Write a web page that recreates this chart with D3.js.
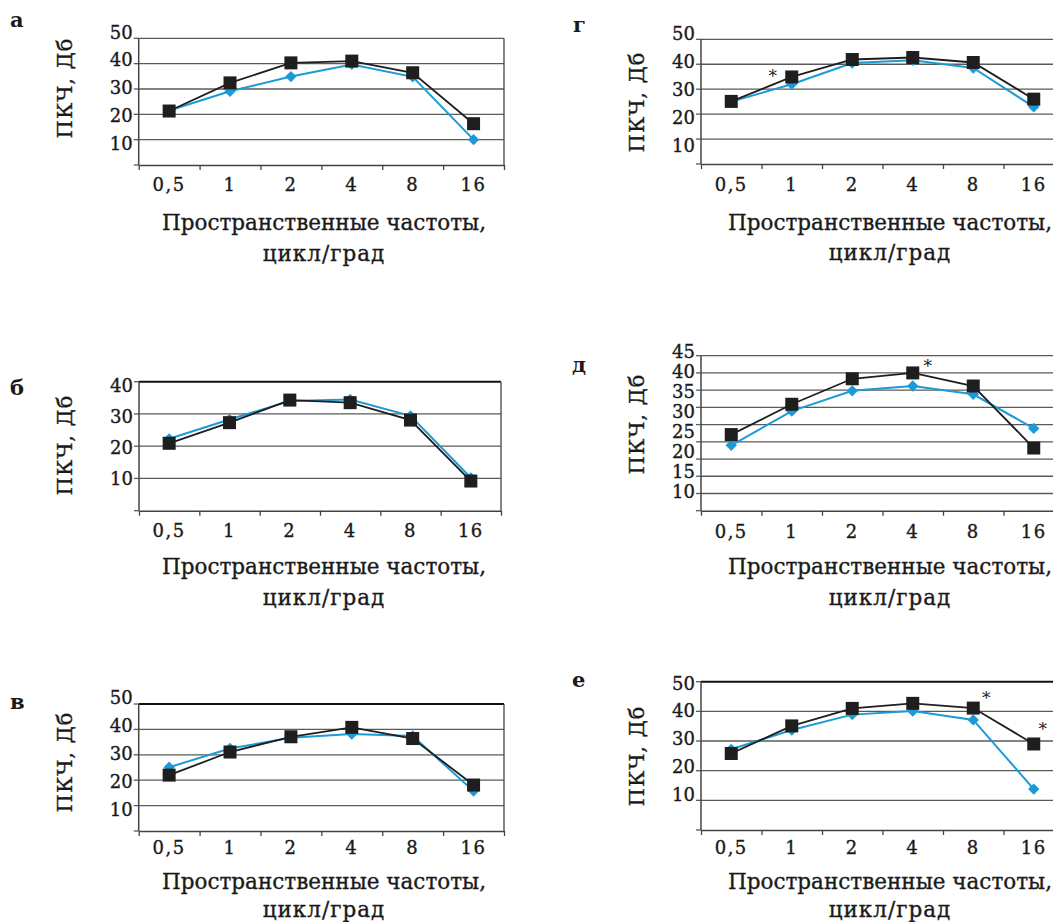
<!DOCTYPE html>
<html><head><meta charset="utf-8">
<script src="https://cdn.jsdelivr.net/npm/d3@7"></script>
<style>
html,body{margin:0;padding:0;background:#fff;}
svg{display:block;}
text{font-family:"DejaVu Serif","Liberation Serif",serif;fill:#1a1a1a;}
</style></head>
<body>
<svg id="chart" width="1053" height="922"></svg>
<script>
// ---------- DATA ----------
const categories = ["0,5", "1", "2", "4", "8", "16"];
const panelLetters = ["а", "б", "в", "г", "д", "е"];
const xTitleLine1 = "Пространственные частоты,";
const xTitleLine2 = "цикл/град";
const yTitle = "ПКЧ, Дб";

const blackA = [21.3, 32.4, 40.3, 41.0, 36.4, 16.3];
const blueA  = [21.5, 29.1, 34.9, 39.7, 34.8, 10.0];
const blackB = [20.9, 27.3, 34.3, 33.5, 28.1, 9.2];
const blueB  = [22.3, 28.3, 34.0, 34.5, 29.4, 10.2];
const blackV = [22.0, 31.1, 37.1, 40.8, 36.4, 18.1];
const blueV  = [25.1, 32.5, 36.7, 38.2, 37.4, 15.7];
const blackG = [25.1, 34.9, 41.9, 42.7, 40.7, 26.0];
const blueG  = [25.0, 32.0, 40.5, 41.6, 38.5, 22.9];
const blackD = [22.1, 30.9, 38.3, 40.0, 36.2, 18.2];
const blueD  = [19.0, 28.9, 34.8, 36.2, 33.8, 23.9];
const blackE = [25.8, 35.1, 41.0, 42.7, 41.1, 29.0];
const blueE  = [27.2, 33.7, 38.9, 40.1, 37.1, 13.8];

const yTicks50 = [50, 40, 30, 20, 10];
const yTicks40 = [40, 30, 20, 10];
const yTicks45 = [45, 40, 35, 30, 25, 20, 15, 10];
const gridTicks45 = [45, 40, 35, 30, 25, 20, 15, 10, 5];

// significance marks (category indices)
const starsG = [1];
const starsD = [3];
const starsE = [4, 5];

// ---------- LAYOUT ----------
const panels = [
  {letter: panelLetters[0], black: blackA, blue: blueA, ymax: 50, ticks: yTicks50, grid: yTicks50,
   L: 138.7, R: 504, T: 38.3, B: 165, lab: [31.7, 143.3], topBorder: false,
   letterPos: [10, 27], yTitlePos: [65, 88], titleX: 324, tickDy: 20, t1: 57, t2: 88, stars: [], starOff: []},
  {letter: panelLetters[1], black: blackB, blue: blueB, ymax: 40, ticks: yTicks40, grid: yTicks40,
   L: 139, R: 501, T: 381.7, B: 510.7, lab: [385, 478.3], topBorder: true,
   letterPos: [10, 395], yTitlePos: [65, 445], titleX: 324, tickDy: 20, t1: 56, t2: 87, stars: [], starOff: []},
  {letter: panelLetters[2], black: blackV, blue: blueV, ymax: 50, ticks: yTicks50, grid: yTicks50,
   L: 138.7, R: 504, T: 704, B: 831, lab: [697.3, 809], topBorder: true,
   letterPos: [10, 709], yTitlePos: [65, 762], titleX: 324, tickDy: 17, t1: 50, t2: 78, stars: [], starOff: []},
  {letter: panelLetters[3], black: blackG, blue: blueG, ymax: 50, ticks: yTicks50, grid: yTicks50,
   L: 701, R: 1064, T: 39.3, B: 164, lab: [33.3, 145], topBorder: false,
   letterPos: [573, 32], yTitlePos: [636.7, 102], titleX: 890, tickDy: 21, t1: 58, t2: 88, stars: starsG, starOff: [[-19, -1]]},
  {letter: panelLetters[4], black: blackD, blue: blueD, ymax: 45, ticks: yTicks45, grid: gridTicks45,
   L: 701, R: 1064, T: 355.7, B: 510.7, lab: [350.7, 490.7], topBorder: false,
   letterPos: [572, 372], yTitlePos: [636.7, 424], titleX: 890, tickDy: 21, t1: 56, t2: 87, stars: starsD, starOff: [[15, -7]]},
  {letter: panelLetters[5], black: blackE, blue: blueE, ymax: 50, ticks: yTicks50, grid: yTicks50,
   L: 701, R: 1064, T: 681.7, B: 830, lab: [682.7, 794.3], topBorder: true,
   letterPos: [572, 687], yTitlePos: [636.7, 756], titleX: 890, tickDy: 18, t1: 51, t2: 79, stars: starsE, starOff: [[13, -10], [9, -15]]}
];

const BLUE = "#1a9bd7";
const BLACK = "#1e1e1e";
const GRID = "#5a5a5a";
const TXT = "#1a1a1a";

const svg = d3.select("#chart");

function heavy(sel) {
  return sel.attr("fill", TXT).attr("stroke", TXT).attr("stroke-width", 0.35);
}

panels.forEach(p => {
  const g = svg.append("g");
  const x = d3.scaleBand().domain(categories).range([p.L, p.R]).padding(0);
  const xb = d3.scaleLinear().domain([0, categories.length]).range([p.L, p.R]);
  const y = d3.scaleLinear().domain([0, p.ymax]).range([p.B, p.T]);
  const yLab = d3.scaleLinear().domain([p.ticks[0], p.ticks[p.ticks.length - 1]]).range(p.lab);

  // gridlines
  g.selectAll("line.grid").data(p.grid).join("line")
    .attr("x1", p.L).attr("x2", p.R)
    .attr("y1", d => y(d)).attr("y2", d => y(d))
    .attr("stroke", (d, i) => (i === 0 && p.topBorder) ? "#111" : GRID)
    .attr("stroke-width", (d, i) => (i === 0 && p.topBorder) ? 2 : 1.3);

  // left axis ticks
  g.selectAll("line.ytick").data(p.grid.concat([0])).join("line")
    .attr("x1", p.L - 5).attr("x2", p.L)
    .attr("y1", d => y(d)).attr("y2", d => y(d))
    .attr("stroke", GRID).attr("stroke-width", 1.3);

  // left axis line
  g.append("line").attr("x1", p.L).attr("x2", p.L).attr("y1", y(p.ymax)).attr("y2", y(0))
    .attr("stroke", "#444").attr("stroke-width", 1.5);
  // right border
  if (p.R < 1053) {
    g.append("line").attr("x1", p.R).attr("x2", p.R).attr("y1", y(p.ymax)).attr("y2", y(0))
      .attr("stroke", "#444").attr("stroke-width", 1.3);
  }

  // bottom axis with ticks at category boundaries
  const xAxisG = g.append("g").attr("transform", `translate(0,${y(0)})`)
    .call(d3.axisBottom(xb).tickValues(d3.range(categories.length + 1))
      .tickSize(5).tickSizeOuter(0).tickFormat(""));
  xAxisG.select(".domain").attr("stroke", "#444").attr("stroke-width", 1.5);
  xAxisG.selectAll(".tick line").attr("stroke", "#444").attr("stroke-width", 1.3);

  // category labels
  const labG = g.append("g").attr("transform", `translate(0,${y(0) + p.tickDy})`)
    .call(d3.axisBottom(x).tickSize(0).tickPadding(0));
  labG.select(".domain").remove();
  heavy(labG.selectAll(".tick text").attr("font-size", 18).attr("font-family", "DejaVu Serif")
    .attr("dy", "0.35em").attr("y", 0).attr("letter-spacing", 1.5));

  // y tick labels
  const yAxG = g.append("g").attr("transform", `translate(${p.L - 6},0)`)
    .call(d3.axisLeft(yLab).tickValues(p.ticks).tickSize(0).tickPadding(0));
  yAxG.select(".domain").remove();
  heavy(yAxG.selectAll(".tick text").attr("font-size", 18).attr("font-family", "DejaVu Serif")
    .attr("dy", "0.35em").attr("x", 0));

  // lines
  const line = d3.line().x((d, i) => x(categories[i]) + x.bandwidth() / 2).y(d => y(d));
  g.append("path").datum(p.blue).attr("d", line).attr("fill", "none")
    .attr("stroke", BLUE).attr("stroke-width", 2);
  g.append("path").datum(p.black).attr("d", line).attr("fill", "none")
    .attr("stroke", BLACK).attr("stroke-width", 1.8);

  // blue diamonds
  g.selectAll("path.dia").data(p.blue).join("path")
    .attr("d", d3.symbol().type(d3.symbolSquare).size(64))
    .attr("transform", (d, i) => `translate(${x(categories[i]) + x.bandwidth() / 2},${y(d)}) rotate(45)`)
    .attr("fill", BLUE);
  // black squares
  g.selectAll("rect.sq").data(p.black).join("rect")
    .attr("x", (d, i) => x(categories[i]) + x.bandwidth() / 2 - 6.5)
    .attr("y", d => y(d) - 6.5)
    .attr("width", 13).attr("height", 13)
    .attr("fill", BLACK);

  // stars
  p.stars.forEach((ci, k) => {
    g.append("text")
      .attr("x", x(categories[ci]) + x.bandwidth() / 2 + p.starOff[k][0])
      .attr("y", y(p.black[ci]) + p.starOff[k][1])
      .attr("text-anchor", "middle").attr("dominant-baseline", "central")
      .attr("font-size", 17).attr("fill", TXT).text("*");
  });

  // panel letter
  g.append("text").attr("x", p.letterPos[0]).attr("y", p.letterPos[1])
    .attr("font-size", 21).attr("font-weight", "bold").text(p.letter);

  // y title
  heavy(g.append("text")
    .attr("transform", `translate(${p.yTitlePos[0]},${p.yTitlePos[1]}) rotate(-90)`)
    .attr("text-anchor", "middle").attr("dominant-baseline", "central")
    .attr("font-size", 21).attr("letter-spacing", 1).text(yTitle));

  // x title
  heavy(g.append("text").attr("x", p.titleX).attr("y", y(0) + p.t1)
    .attr("text-anchor", "middle").attr("dominant-baseline", "central")
    .attr("font-size", 21.5).text(xTitleLine1));
  heavy(g.append("text").attr("x", p.titleX).attr("y", y(0) + p.t2)
    .attr("text-anchor", "middle").attr("dominant-baseline", "central")
    .attr("font-size", 21.5).attr("letter-spacing", 1).text(xTitleLine2));
});
</script>
</body></html>
